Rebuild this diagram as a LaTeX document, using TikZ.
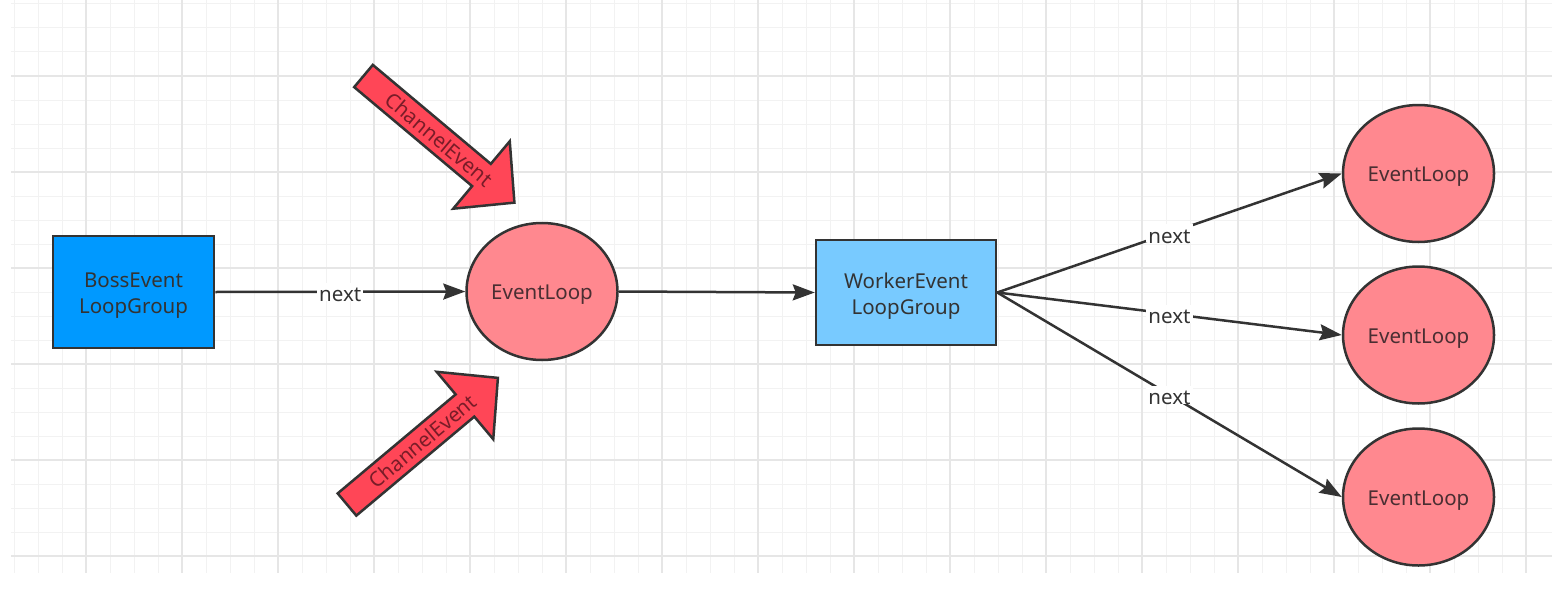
\documentclass[tikz,border=0pt]{standalone}
\usepackage{fontspec}
\setmainfont{Noto Sans}
\usetikzlibrary{shapes.geometric,arrows.meta}
\definecolor{gridminor}{HTML}{F2F2F2}
\definecolor{gridmajor}{HTML}{E6E6E6}
\definecolor{edgecol}{HTML}{333333}
\definecolor{bossblue}{HTML}{0099FF}
\definecolor{workerblue}{HTML}{78CAFF}
\definecolor{looppink}{HTML}{FF888F}
\definecolor{evred}{HTML}{FF4657}
\definecolor{evtext}{HTML}{7A1C28}
\definecolor{looptext}{HTML}{4A2E32}
\newcommand{\lowtext}[1]{\raisebox{-3.5pt}[\height][\depth]{#1}}
\begin{document}
\begin{tikzpicture}[x=1pt,y=-1pt,
  every node/.style={font=\fontsize{20.5pt}{26pt}\selectfont},
  groupbox/.style={draw=edgecol, line width=2.5pt, align=center, text=edgecol, inner sep=0pt},
  loopnode/.style={ellipse, draw=edgecol, line width=2.5pt, fill=looppink, minimum width=151pt, minimum height=137pt, inner sep=0pt, text=looptext},
  link/.style={draw=edgecol, line width=2.5pt, -{Stealth[length=22pt,width=16pt,inset=3pt]}},
  linklabel/.style={fill=white, inner sep=2pt, text=edgecol},
  evarrow/.style={draw=edgecol, line width=2.5pt, fill=evred, line join=miter},
  evlabel/.style={text=evtext, inner sep=0pt},
  gridthin/.style={draw=gridminor, line width=1pt},
  gridthick/.style={draw=gridmajor, line width=1.6pt}
]
% background and bounding box
\fill[white] (0,0) rectangle (1552,594);
\useasboundingbox (0,0) rectangle (1552,594);
% grid
\foreach \k in {0,...,63} \draw[gridthin] ({14+24*\k},0) -- ({14+24*\k},573);
\foreach \k in {0,...,23} \draw[gridthin] (11,{4+24*\k}) -- (1552,{4+24*\k});
\foreach \k in {0,...,15} \draw[gridthick] ({86+96*\k},0) -- ({86+96*\k},573);
\foreach \k in {0,...,5} \draw[gridthick] (11,{76+96*\k}) -- (1552,{76+96*\k});

% nodes
\node[groupbox, fill=bossblue, minimum width=161pt, minimum height=112pt] (boss) at (133.5,292) {\lowtext{BossEvent}\\\lowtext{LoopGroup}};
\node[loopnode] (loop) at (542,291.5) {\lowtext{EventLoop}};
\node[groupbox, fill=workerblue, minimum width=180pt, minimum height=105pt] (worker) at (906,292.5) {\lowtext{WorkerEvent}\\\lowtext{LoopGroup}};
\node[loopnode] (loopA) at (1418.5,173.5) {\lowtext{EventLoop}};
\node[loopnode] (loopB) at (1418.5,335) {\lowtext{EventLoop}};
\node[loopnode] (loopC) at (1418.5,497) {\lowtext{EventLoop}};

% connectors
\draw[link] (boss.east) -- node[linklabel] (nx0) {\lowtext{next}} (loop.west);
\draw[link] (loop.east) -- (worker.west);
\draw[link] (worker.east) -- node[linklabel] (nx1) {\lowtext{next}} (loopA.west);
\draw[link] (worker.east) -- node[linklabel] (nx2) {\lowtext{next}} (loopB.west);
\draw[link] (worker.east) -- node[linklabel] (nx3) {\lowtext{next}} (loopC.west);

% ChannelEvent block arrows
\begin{scope}[shift={(363.5,76)}, rotate=-40]
  \draw[evarrow] (0,-14.5) -- (154,-14.5) -- (154,-44) -- (197,0) -- (154,44) -- (154,14.5) -- (0,14.5) -- cycle;
\end{scope}
\node[evlabel, rotate=-40] (ev1) at (439,139.3) {ChannelEvent};
\begin{scope}[shift={(347,504.5)}, rotate=40]
  \draw[evarrow] (0,-14.5) -- (154,-14.5) -- (154,-44) -- (197,0) -- (154,44) -- (154,14.5) -- (0,14.5) -- cycle;
\end{scope}
\node[evlabel, rotate=40] (ev2) at (422.5,441.2) {ChannelEvent};
\end{tikzpicture}
\end{document}
